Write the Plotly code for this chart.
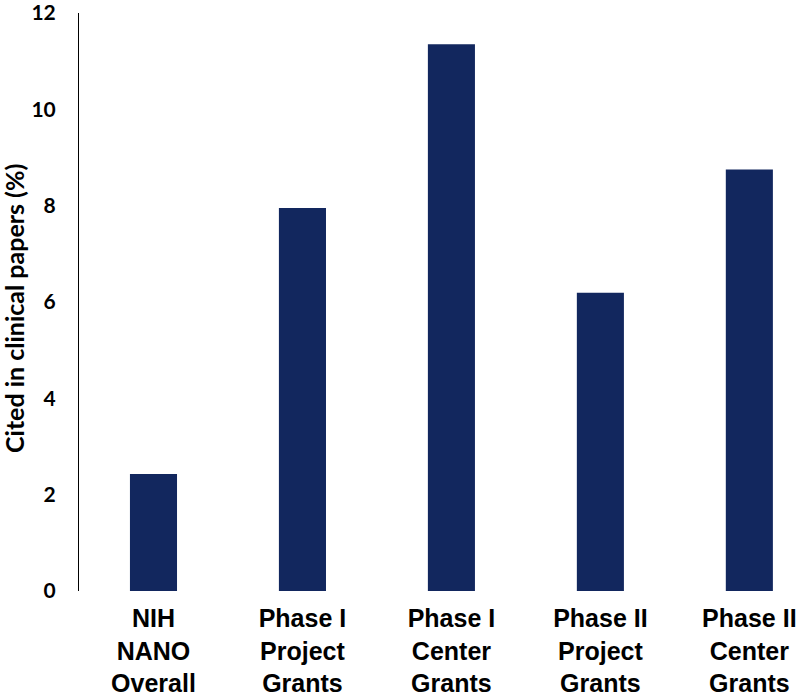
import plotly.graph_objects as go

categories = ["NIH<br>NANO<br>Overall", "Phase I<br>Project<br>Grants", "Phase I<br>Center<br>Grants",
              "Phase II<br>Project<br>Grants", "Phase II<br>Center<br>Grants"]
values = [2.43, 7.95, 11.35, 6.19, 8.75]
y_ticks = [0, 2, 4, 6, 8, 10, 12]

fig = go.Figure(go.Bar(x=list(range(len(categories))), y=values, marker_color="#12275E",
                       marker_line_width=0, width=0.316))

fig.update_layout(
    width=800, height=697,
    margin=dict(l=79, r=0, t=13, b=106),
    plot_bgcolor="white", paper_bgcolor="white",
    showlegend=False,
    xaxis=dict(range=[-0.5, 4.34], tickvals=list(range(len(categories))), ticktext=categories,
               tickfont=dict(family="Liberation Sans", size=25, color="black", weight="bold"),
               showgrid=False, showline=False, zeroline=False, ticks="", automargin=False,
               ticklabelstandoff=10, ticklabeloverflow="allow"),
    yaxis=dict(range=[0, 12.001], tickvals=y_ticks, ticktext=[str(t) for t in y_ticks],
               tickfont=dict(family="Lato", size=21, color="black", weight="bold"),
               showgrid=False, zeroline=False, showline=True, linecolor="black", linewidth=1,
               ticks="", ticklabelstandoff=18, automargin=False, ticklabeloverflow="allow"),
    annotations=[dict(text="Cited in clinical papers (%)", textangle=-90,
                      xref="paper", yref="paper", x=(14 - 79) / 721, y=(591 - 309) / 578,
                      xanchor="center", yanchor="middle", showarrow=False,
                      font=dict(family="Lato", size=25, color="black", weight="bold"))],
)

fig.write_html("out.html", config={"displayModeBar": False},
               post_script="document.body.style.margin='0';")
